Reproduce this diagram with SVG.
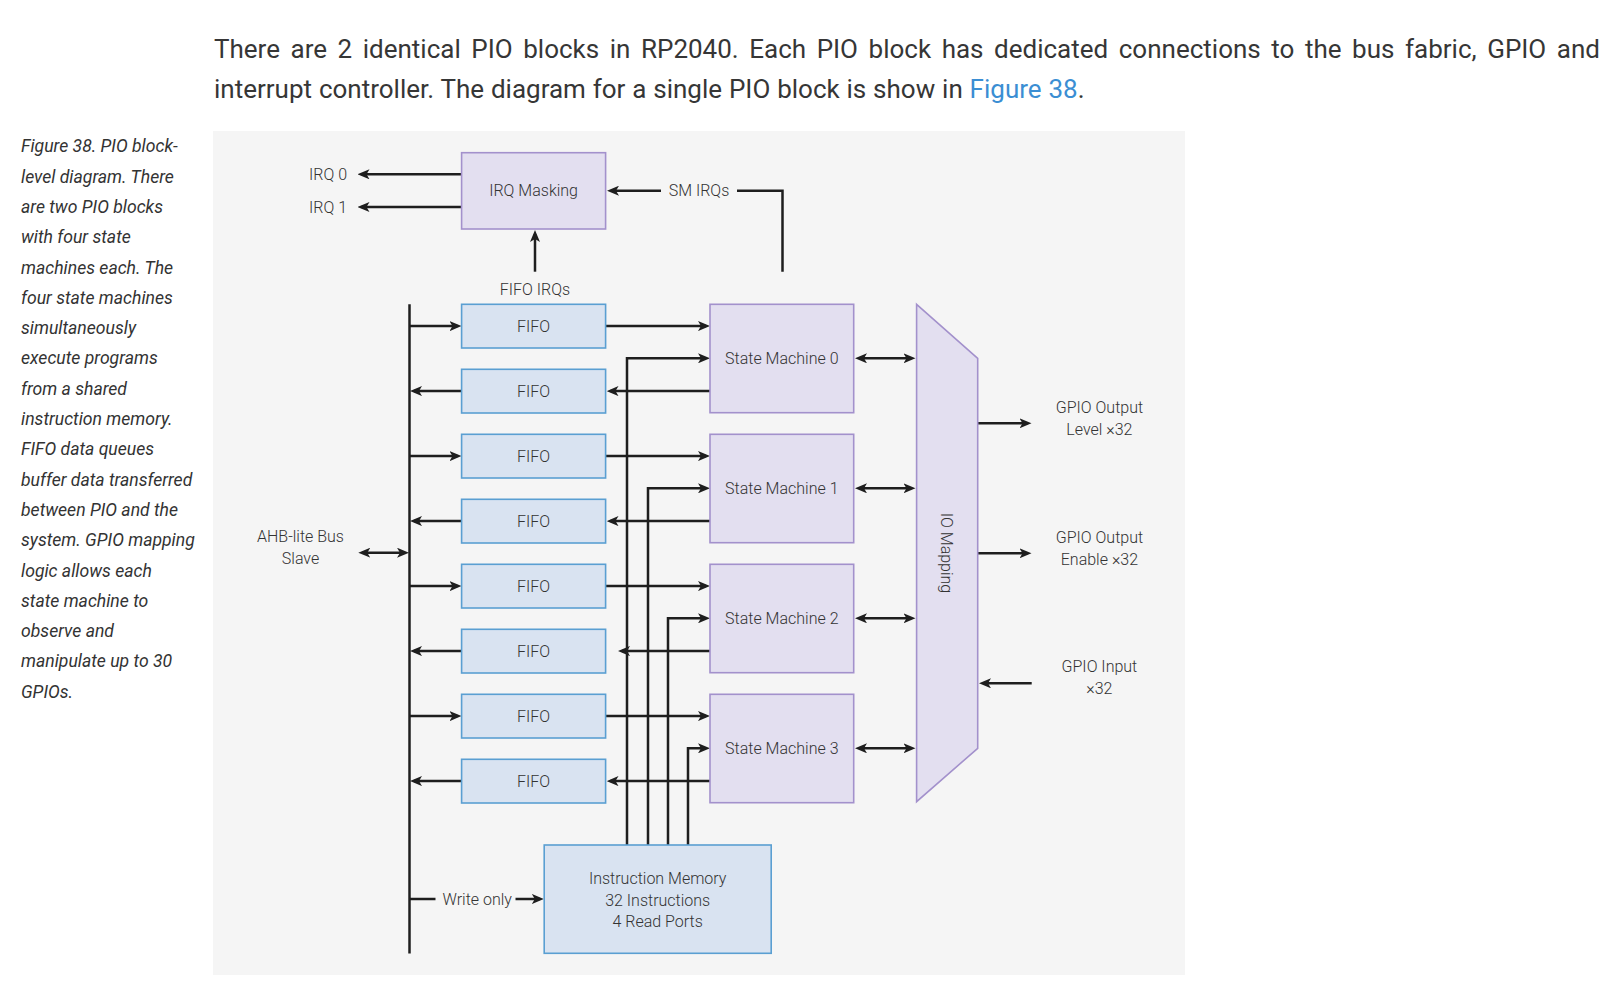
<svg xmlns="http://www.w3.org/2000/svg" width="1614" height="993" viewBox="0 0 1614 993">
<style>
text { font-family: Roboto, "Open Sans", "Liberation Sans", sans-serif; fill: #333; }
.para { font-size: 26px; font-weight: 400; fill: #363636; }
.cap { font-size: 17.6px; font-style: italic; font-weight: 400; fill: #333; }
.lbl { font-size: 16px; font-weight: 300; fill: #333; }
.ctr { text-anchor: middle; }
.fifo { fill: #d9e3f1; stroke: #5a9fd2; stroke-width: 1.6; }
.sm { fill: #e3dff0; stroke: #a391cc; stroke-width: 1.6; }
.ln { fill: none; stroke: #1e1e1e; stroke-width: 2.5; }
.a { marker-end: url(#ah); }
.aa { marker-start: url(#ah); marker-end: url(#ah); }
</style>
<defs>
<marker id="ah" markerUnits="userSpaceOnUse" markerWidth="12" markerHeight="10" refX="8" refY="5" orient="auto-start-reverse" viewBox="0 0 12 10">
<path d="M0,0 L12,5 L0,10 L3,5 z" fill="#1e1e1e"/>
</marker>
</defs>
<rect width="1614" height="993" fill="#ffffff"/>
<g id="paragraph">
<text class="para" x="214" y="58" word-spacing="4.1">There are 2 identical PIO blocks in RP2040. Each PIO block has dedicated connections to the bus fabric, GPIO and</text>
<text class="para" x="214" y="98" word-spacing="0.4">interrupt controller. The diagram for a single PIO block is show in <tspan fill="#3b8ed3">Figure 38</tspan>.</text>
</g>
<g id="caption">
<text class="cap" x="21" y="152.3">Figure 38. PIO block-</text>
<text class="cap" x="21" y="182.6">level diagram. There</text>
<text class="cap" x="21" y="212.9">are two PIO blocks</text>
<text class="cap" x="21" y="243.2">with four state</text>
<text class="cap" x="21" y="273.5">machines each. The</text>
<text class="cap" x="21" y="303.8">four state machines</text>
<text class="cap" x="21" y="334.1">simultaneously</text>
<text class="cap" x="21" y="364.4">execute programs</text>
<text class="cap" x="21" y="394.7">from a shared</text>
<text class="cap" x="21" y="425">instruction memory.</text>
<text class="cap" x="21" y="455.3">FIFO data queues</text>
<text class="cap" x="21" y="485.6">buffer data transferred</text>
<text class="cap" x="21" y="515.9">between PIO and the</text>
<text class="cap" x="21" y="546.2">system. GPIO mapping</text>
<text class="cap" x="21" y="576.5">logic allows each</text>
<text class="cap" x="21" y="606.8">state machine to</text>
<text class="cap" x="21" y="637.1">observe and</text>
<text class="cap" x="21" y="667.4">manipulate up to 30</text>
<text class="cap" x="21" y="697.7">GPIOs.</text>
</g>
<rect id="panel" x="213" y="131" width="972" height="844" fill="#f5f5f5"/>
<g id="connectors">
<path class="ln a" d="M461.6,174.3 H361.5"/>
<path class="ln a" d="M461.6,207 H361.5"/>
<path class="ln" d="M782.5,271.7 V190.7 H737"/>
<path class="ln a" d="M661,190.7 H611"/>
<path class="ln a" d="M535,271.7 V234"/>
<path class="ln" d="M409.5,304.3 V953.5"/>
<path class="ln a" d="M409.5,326.1 H457.5"/>
<path class="ln a" d="M461.6,391.1 H414"/>
<path class="ln a" d="M409.5,456.1 H457.5"/>
<path class="ln a" d="M461.6,521.1 H414"/>
<path class="ln a" d="M409.5,586.1 H457.5"/>
<path class="ln a" d="M461.6,651.1 H414"/>
<path class="ln a" d="M409.5,716.1 H457.5"/>
<path class="ln a" d="M461.6,781.1 H414"/>
<path class="ln a" d="M605.6,326.1 H706"/>
<path class="ln a" d="M605.6,456.1 H706"/>
<path class="ln a" d="M605.6,586.1 H706"/>
<path class="ln a" d="M605.6,716.1 H706"/>
<path class="ln a" d="M710,391.1 H610.5"/>
<path class="ln a" d="M710,521.1 H610.5"/>
<path class="ln a" d="M710,651.1 H622"/>
<path class="ln a" d="M710,781.1 H610.5"/>
<path class="ln a" d="M627,845 V358.3 H706"/>
<path class="ln a" d="M648,845 V488.3 H706"/>
<path class="ln a" d="M668,845 V618.3 H706"/>
<path class="ln a" d="M688,845 V748.3 H706"/>
<path class="ln aa" d="M859,358.3 H911.5"/>
<path class="ln aa" d="M859,488.3 H911.5"/>
<path class="ln aa" d="M859,618.3 H911.5"/>
<path class="ln aa" d="M859,748.3 H911.5"/>
<path class="ln a" d="M977.7,423.3 H1027.5"/>
<path class="ln a" d="M977.7,553.3 H1027.5"/>
<path class="ln a" d="M1031.7,683.3 H983"/>
<path class="ln aa" d="M362.3,552.7 H405"/>
<path class="ln" d="M409.5,899 H435.5"/>
<path class="ln a" d="M515.5,899 H539.8"/>
</g>
<g id="labels">
<text class="lbl" x="309" y="180">IRQ 0</text>
<text class="lbl" x="309" y="212.7">IRQ 1</text>
<text class="lbl ctr" x="699" y="196.4">SM IRQs</text>
<text class="lbl ctr" x="535" y="295">FIFO IRQs</text>
<text class="lbl ctr" x="300.5" y="542.4">AHB-lite Bus</text>
<text class="lbl ctr" x="300.5" y="564.4">Slave</text>
<text class="lbl" x="442.5" y="904.7">Write only</text>
<text class="lbl ctr" x="1099.4" y="413">GPIO Output</text>
<text class="lbl ctr" x="1099.4" y="434.7">Level ×32</text>
<text class="lbl ctr" x="1099.4" y="543">GPIO Output</text>
<text class="lbl ctr" x="1099.4" y="564.7">Enable ×32</text>
<text class="lbl ctr" x="1099.4" y="672.4">GPIO Input</text>
<text class="lbl ctr" x="1099.4" y="694">×32</text>
</g>
<g id="irq-masking">
<rect class="sm" x="461.6" y="152.7" width="144" height="76.3"/>
<text class="lbl ctr" x="533.6" y="196.4">IRQ Masking</text>
</g>
<g id="fifo0"><rect class="fifo" x="461.6" y="304.3" width="144" height="43.7"/><text class="lbl ctr" x="533.6" y="331.8">FIFO</text></g>
<g id="fifo1"><rect class="fifo" x="461.6" y="369.3" width="144" height="43.7"/><text class="lbl ctr" x="533.6" y="396.8">FIFO</text></g>
<g id="fifo2"><rect class="fifo" x="461.6" y="434.3" width="144" height="43.7"/><text class="lbl ctr" x="533.6" y="461.8">FIFO</text></g>
<g id="fifo3"><rect class="fifo" x="461.6" y="499.3" width="144" height="43.7"/><text class="lbl ctr" x="533.6" y="526.8">FIFO</text></g>
<g id="fifo4"><rect class="fifo" x="461.6" y="564.3" width="144" height="43.7"/><text class="lbl ctr" x="533.6" y="591.8">FIFO</text></g>
<g id="fifo5"><rect class="fifo" x="461.6" y="629.3" width="144" height="43.7"/><text class="lbl ctr" x="533.6" y="656.8">FIFO</text></g>
<g id="fifo6"><rect class="fifo" x="461.6" y="694.3" width="144" height="43.7"/><text class="lbl ctr" x="533.6" y="721.8">FIFO</text></g>
<g id="fifo7"><rect class="fifo" x="461.6" y="759.3" width="144" height="43.7"/><text class="lbl ctr" x="533.6" y="786.8">FIFO</text></g>
<g id="sm0"><rect class="sm" x="710" y="304.3" width="143.7" height="108.4"/><text class="lbl ctr" x="781.8" y="364">State Machine 0</text></g>
<g id="sm1"><rect class="sm" x="710" y="434.3" width="143.7" height="108.4"/><text class="lbl ctr" x="781.8" y="494">State Machine 1</text></g>
<g id="sm2"><rect class="sm" x="710" y="564.3" width="143.7" height="108.4"/><text class="lbl ctr" x="781.8" y="624">State Machine 2</text></g>
<g id="sm3"><rect class="sm" x="710" y="694.3" width="143.7" height="108.4"/><text class="lbl ctr" x="781.8" y="754">State Machine 3</text></g>
<g id="io-mapping">
<polygon class="sm" points="916.6,304.3 977.7,358.3 977.7,748.3 916.6,801.7"/>
<text class="lbl ctr" transform="translate(941,553) rotate(90)" x="0" y="0">IO Mapping</text>
</g>
<g id="instruction-memory">
<rect class="fifo" x="544.2" y="845" width="227" height="108.3"/>
<text class="lbl ctr" x="657.7" y="884">Instruction Memory</text>
<text class="lbl ctr" x="657.7" y="905.7">32 Instructions</text>
<text class="lbl ctr" x="657.7" y="927.4">4 Read Ports</text>
</g>
</svg>
